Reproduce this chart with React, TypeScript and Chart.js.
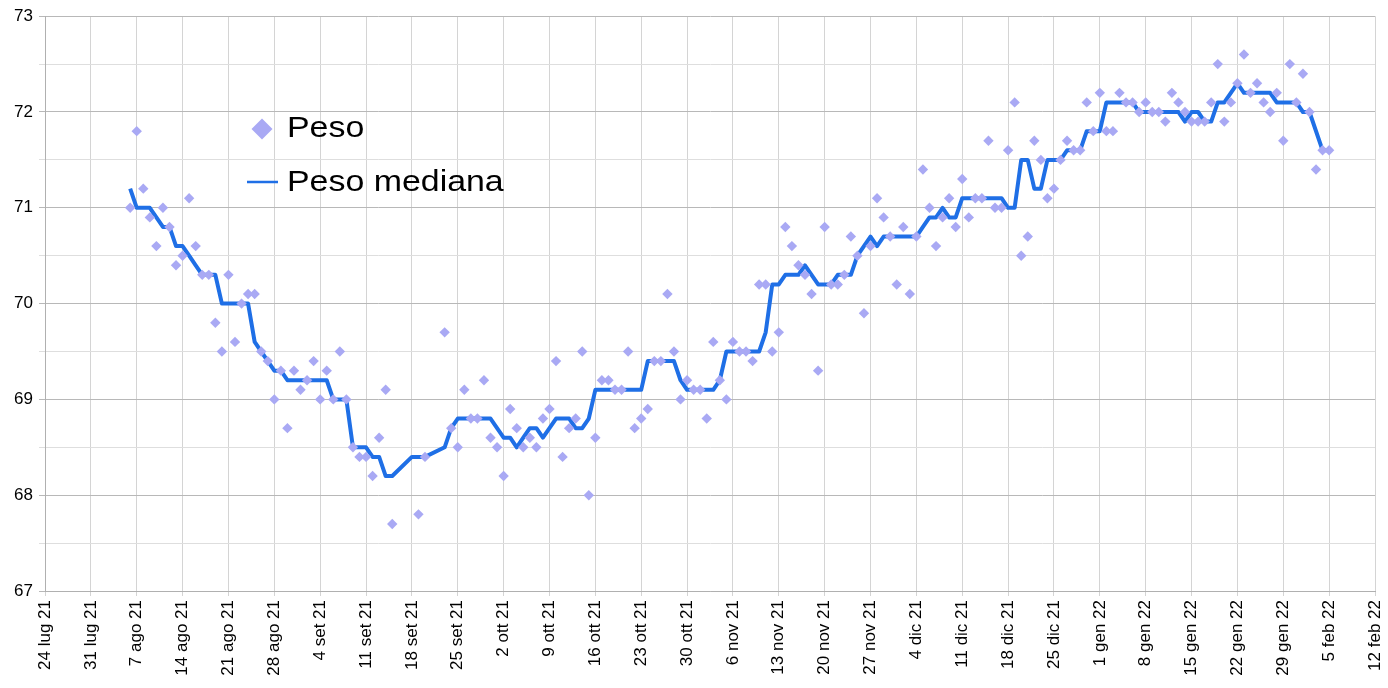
import React, { useEffect, useRef } from 'react';
import { Chart, registerables } from 'chart.js';

Chart.register(...registerables);

// x axis: days counted from 24 lug 21
const axisStartUTC = Date.UTC(2021, 6, 24);
const axisMaxDay = 203; // 12 feb 22
const weekStep = 7;
const firstDataDay = 13; // 6 ago 21
const monthNames = ['gen', 'feb', 'mar', 'apr', 'mag', 'giu', 'lug', 'ago', 'set', 'ott', 'nov', 'dic'];

const yMin = 67;
const yMax = 73;

// daily weights from 6 ago 21 to 5 feb 22 (null = no measurement)
const peso: (number | null)[] = [
  71.0, 71.8, 71.2, 70.9, 70.6, 71.0, 70.8, 70.4, 70.5, 71.1,
  70.6, 70.3, 70.3, 69.8, 69.5, 70.3, 69.6, 70.0, 70.1, 70.1,
  69.5, 69.4, 69.0, 69.3, 68.7, 69.3, 69.1, 69.2, 69.4, 69.0,
  69.3, 69.0, 69.5, 69.0, 68.5, 68.4, 68.4, 68.2, 68.6, 69.1,
  67.7, null, null, null, 67.8, 68.4, null, null, 69.7, 68.7,
  68.5, 69.1, 68.8, 68.8, 69.2, 68.6, 68.5, 68.2, 68.9, 68.7,
  68.5, 68.6, 68.5, 68.8, 68.9, 69.4, 68.4, 68.7, 68.8, 69.5,
  68.0, 68.6, 69.2, 69.2, 69.1, 69.1, 69.5, 68.7, 68.8, 68.9,
  69.4, 69.4, 70.1, 69.5, 69.0, 69.2, 69.1, 69.1, 68.8, 69.6,
  69.2, 69.0, 69.6, 69.5, 69.5, 69.4, 70.2, 70.2, 69.5, 69.7,
  70.8, 70.6, 70.4, 70.3, 70.1, 69.3, 70.8, 70.2, 70.2, 70.3,
  70.7, 70.5, 69.9, 70.6, 71.1, 70.9, 70.7, 70.2, 70.8, 70.1,
  70.7, 71.4, 71.0, 70.6, 70.9, 71.1, 70.8, 71.3, 70.9, 71.1,
  71.1, 71.7, 71.0, 71.0, 71.6, 72.1, 70.5, 70.7, 71.7, 71.5,
  71.1, 71.2, 71.5, 71.7, 71.6, 71.6, 72.1, 71.8, 72.2, 71.8,
  71.8, 72.2, 72.1, 72.1, 72.0, 72.1, 72.0, 72.0, 71.9, 72.2,
  72.1, 72.0, 71.9, 71.9, 71.9, 72.1, 72.5, 71.9, 72.1, 72.3,
  72.6, 72.2, 72.3, 72.1, 72.0, 72.2, 71.7, 72.5, 72.1, 72.4,
  72.0, 71.4, 71.6, 71.6,
];

// running median, same days
const pesoMediana: (number | null)[] = [
  71.2, 71.0, 71.0, 71.0, 70.9, 70.8, 70.8, 70.6, 70.6, 70.5,
  70.4, 70.3, 70.3, 70.3, 70.0, 70.0, 70.0, 70.0, 70.0, 69.6,
  69.5, 69.4, 69.3, 69.3, 69.2, 69.2, 69.2, 69.2, 69.2, 69.2,
  69.2, 69.0, 69.0, 69.0, 68.5, 68.5, 68.5, 68.4, 68.4, 68.2,
  68.2, null, null, 68.4, 68.4, 68.4, null, null, 68.5, 68.7,
  68.8, 68.8, 68.8, 68.8, 68.8, 68.8, 68.7, 68.6, 68.6, 68.5,
  68.6, 68.7, 68.7, 68.6, 68.7, 68.8, 68.8, 68.8, 68.7, 68.7,
  68.8, 69.1, 69.1, 69.1, 69.1, 69.1, 69.1, 69.1, 69.1, 69.4,
  69.4, 69.4, 69.4, 69.4, 69.2, 69.1, 69.1, 69.1, 69.1, 69.1,
  69.2, 69.5, 69.5, 69.5, 69.5, 69.5, 69.5, 69.7, 70.2, 70.2,
  70.3, 70.3, 70.3, 70.4, 70.3, 70.2, 70.2, 70.2, 70.3, 70.3,
  70.3, 70.5, 70.6, 70.7, 70.6, 70.7, 70.7, 70.7, 70.7, 70.7,
  70.7, 70.8, 70.9, 70.9, 71.0, 70.9, 70.9, 71.1, 71.1, 71.1,
  71.1, 71.1, 71.1, 71.1, 71.0, 71.0, 71.5, 71.5, 71.2, 71.2,
  71.5, 71.5, 71.5, 71.6, 71.6, 71.6, 71.8, 71.8, 71.8, 72.1,
  72.1, 72.1, 72.1, 72.1, 72.0, 72.0, 72.0, 72.0, 72.0, 72.0,
  72.0, 71.9, 72.0, 72.0, 71.9, 71.9, 72.1, 72.1, 72.2, 72.3,
  72.2, 72.2, 72.2, 72.2, 72.2, 72.1, 72.1, 72.1, 72.1, 72.0,
  72.0, null, 71.6, 71.6,
];

const seriesLabels = ['Peso', 'Peso mediana'];

const pesoColor = '#a9a9f4';
const medianaColor = '#1f6fe6';
const fontFamily = '"Liberation Sans", Arial, Helvetica, sans-serif';

function dayLabel(v: number): string {
  const d = new Date(axisStartUTC + v * 86400000);
  return `${d.getUTCDate()} ${monthNames[d.getUTCMonth()]} ${String(d.getUTCFullYear()).slice(2)}`;
}

const legendPlugin = {
  id: 'insideLegend',
  afterDatasetsDraw(chart: any) {
    const ctx = chart.ctx as CanvasRenderingContext2D;
    ctx.save();
    // diamond marker
    const dx = 262, dy = 129, r = 10.5;
    ctx.fillStyle = pesoColor;
    ctx.beginPath();
    ctx.moveTo(dx - r, dy);
    ctx.lineTo(dx, dy - r);
    ctx.lineTo(dx + r, dy);
    ctx.lineTo(dx, dy + r);
    ctx.closePath();
    ctx.fill();
    // line marker
    ctx.strokeStyle = medianaColor;
    ctx.lineWidth = 2.5;
    ctx.beginPath();
    ctx.moveTo(247, 182);
    ctx.lineTo(278, 182);
    ctx.stroke();
    // texts
    ctx.fillStyle = '#000';
    ctx.font = `30px ${fontFamily}`;
    ctx.textBaseline = 'middle';
    ctx.textAlign = 'left';
    const rows: [string, number][] = [[seriesLabels[0], 129], [seriesLabels[1], 183]];
    rows.forEach(([t, y]) => {
      ctx.save();
      ctx.translate(287, y);
      ctx.scale(1.13, 1);
      ctx.fillText(t, 0, 0);
      ctx.restore();
    });
    ctx.restore();
  },
};

export default function App() {
  const canvasRef = useRef<HTMLCanvasElement | null>(null);

  useEffect(() => {
    const canvas = canvasRef.current;
    if (!canvas) return;
    const pesoPoints = peso.map((v, i) => ({ x: firstDataDay + i, y: v }));
    const medianaPoints = pesoMediana.map((v, i) => ({ x: firstDataDay + i, y: v }));
    const tickFont = { family: fontFamily, size: 17 };

    const chart = new Chart(canvas, {
      type: 'line',
      data: {
        datasets: [
          {
            type: 'scatter',
            label: seriesLabels[0],
            data: pesoPoints as any,
            showLine: false,
            pointStyle: 'rectRot',
            pointRadius: 5.2,
            pointBorderWidth: 0,
            pointBackgroundColor: pesoColor,
            backgroundColor: pesoColor,
            borderColor: pesoColor,
            order: 0,
          } as any,
          {
            type: 'line',
            label: seriesLabels[1],
            data: medianaPoints as any,
            borderColor: medianaColor,
            backgroundColor: medianaColor,
            borderWidth: 4,
            pointRadius: 0,
            spanGaps: true,
            tension: 0,
            borderJoinStyle: 'round',
            order: 1,
          } as any,
        ],
      },
      options: {
        animation: false,
        responsive: false,
        devicePixelRatio: 1,
        layout: { padding: { top: 15, right: 13, left: 0, bottom: 0 } },
        plugins: {
          legend: { display: false },
          tooltip: { enabled: false },
        },
        scales: {
          x: {
            type: 'linear',
            min: 0,
            max: axisMaxDay,
            ticks: {
              stepSize: weekStep,
              autoSkip: false,
              minRotation: 90,
              maxRotation: 90,
              padding: 4,
              color: '#000',
              font: tickFont,
              callback: (v: any) => dayLabel(Number(v)),
            },
            grid: { color: '#d4d4d4', lineWidth: 1, tickLength: 5 },
            border: { color: '#b0b0b0' },
            afterFit: (s: any) => {
              s.height = 97;
              s.paddingRight = 0;
              s.paddingLeft = 0;
            },
          },
          y: {
            type: 'linear',
            min: yMin,
            max: yMax,
            ticks: {
              stepSize: 0.5,
              padding: 6,
              color: '#000',
              font: tickFont,
              callback: (v: any) => (Number.isInteger(Number(v)) ? String(v) : ''),
            },
            grid: {
              color: (c: any) => (Number.isInteger(c.tick?.value) ? '#b8b8b8' : '#dedede'),
              lineWidth: 1,
              tickLength: 6,
            },
            border: { color: '#b0b0b0' },
            afterFit: (s: any) => {
              s.width = 45;
            },
          },
        },
      } as any,
      plugins: [legendPlugin],
    });
    return () => chart.destroy();
  }, []);

  return (
    <div style={{ position: 'fixed', left: 0, top: 0, width: 1388, height: 688, background: '#fff' }}>
      <canvas ref={canvasRef} width={1388} height={688} style={{ display: 'block', width: 1388, height: 688 }} />
    </div>
  );
}
